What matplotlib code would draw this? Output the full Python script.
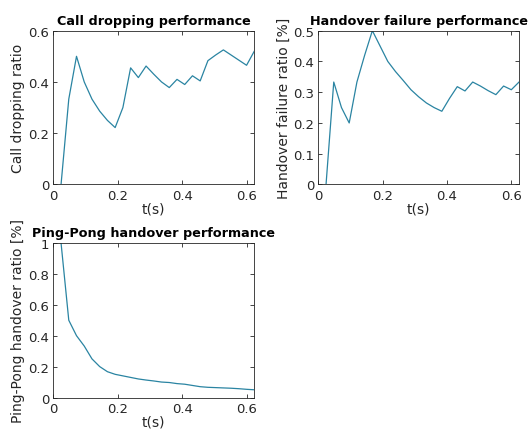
import matplotlib.pyplot as plt
from matplotlib.ticker import FormatStrFormatter

# Datos (tiempo en s)
t = [0.024, 0.048, 0.072, 0.096, 0.120, 0.144, 0.168, 0.192, 0.216, 0.240,
     0.264, 0.288, 0.312, 0.336, 0.360, 0.384, 0.408, 0.432, 0.456, 0.480,
     0.504, 0.528, 0.552, 0.576, 0.600, 0.624]

call_drop = [0.0, 0.333, 0.5, 0.4, 0.333, 0.286, 0.25, 0.222, 0.30, 0.455,
             0.417, 0.462, 0.43, 0.40, 0.378, 0.41, 0.39, 0.424, 0.404, 0.483,
             0.505, 0.525, 0.505, 0.485, 0.465, 0.52]

ho_fail = [0.0, 0.333, 0.25, 0.2, 0.333, 0.42, 0.5, 0.45, 0.40, 0.367,
           0.338, 0.308, 0.285, 0.265, 0.25, 0.238, 0.28, 0.318, 0.304, 0.333,
           0.32, 0.305, 0.292, 0.32, 0.308, 0.333]

ping_pong = [1.0, 0.5, 0.4, 0.333, 0.25, 0.2, 0.167, 0.15, 0.14, 0.13,
             0.12, 0.113, 0.107, 0.10, 0.097, 0.09, 0.086, 0.078, 0.07, 0.066,
             0.064, 0.062, 0.06, 0.057, 0.053, 0.05]

line_color = '#2a84a2'
txt = '#262626'

plt.rcParams['font.family'] = 'DejaVu Sans'

fig = plt.figure(figsize=(5.3, 4.35), dpi=100)


def panel(pos, y, title, ylabel, ymax, ystep):
    ax = fig.add_axes(pos)
    ax.plot(t, y, color=line_color, lw=0.9)
    ax.set_xlim(0, 0.624)
    ax.set_ylim(0, ymax)
    ax.set_xticks([0, 0.2, 0.4, 0.6])
    n = int(round(ymax / ystep))
    ax.set_yticks([ystep * i for i in range(n + 1)])
    ax.xaxis.set_major_formatter(FormatStrFormatter('%g'))
    ax.yaxis.set_major_formatter(FormatStrFormatter('%g'))
    ax.tick_params(direction='in', top=True, right=True, length=3, width=0.6,
                   colors=txt, labelsize=9.5, pad=3)
    for s in ax.spines.values():
        s.set_linewidth(0.6)
        s.set_color(txt)
    ax.set_title(title, fontsize=9.2, fontweight='bold', pad=5)
    ax.set_xlabel('t(s)', color=txt, fontsize=10, labelpad=0)
    ax.set_ylabel(ylabel, color=txt, fontsize=10, labelpad=2)
    return ax


panel([0.1006, 0.5736, 0.3792, 0.3536], call_drop,
      'Call dropping performance', 'Call dropping ratio', 0.6, 0.2)
panel([0.6006, 0.5736, 0.3787, 0.3536], ho_fail,
      'Handover failure performance', 'Handover failure ratio [%]', 0.5, 0.1)
panel([0.1006, 0.0839, 0.3792, 0.3552], ping_pong,
      'Ping-Pong handover performance', 'Ping-Pong handover ratio [%]', 1.0, 0.2)

fig.savefig('out.png', dpi=100)
